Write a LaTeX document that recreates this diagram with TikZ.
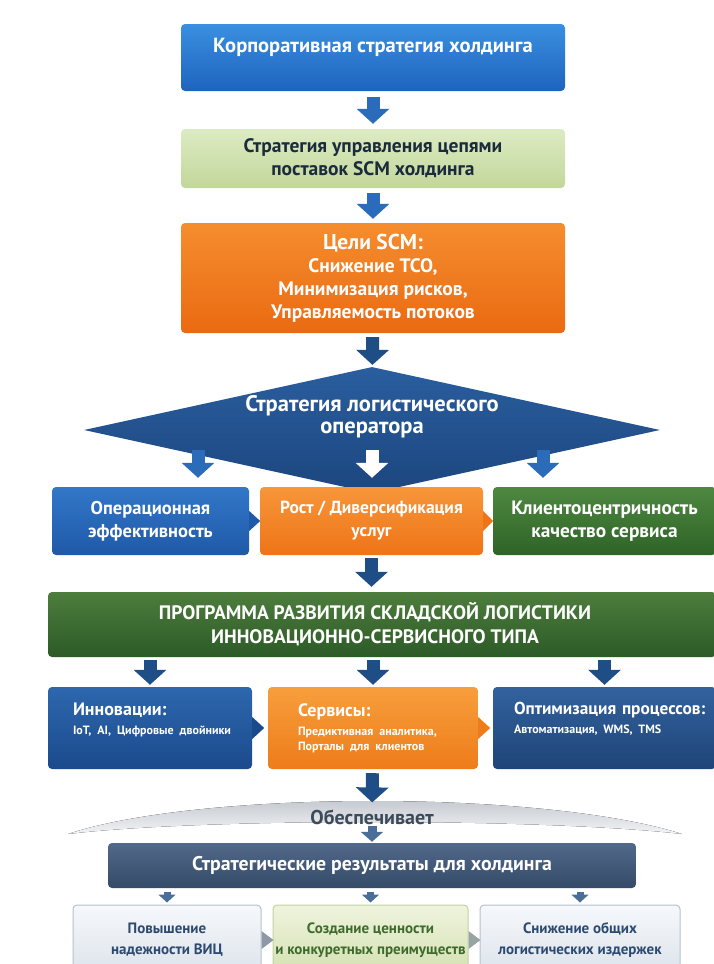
\documentclass[tikz,border=0pt]{standalone}
\usepackage{fontspec}
\setmainfont{PT Sans}
\frenchspacing
\usetikzlibrary{arrows.meta,shapes.geometric}

\definecolor{corptop}{HTML}{3A8FE0}
\definecolor{corpbot}{HTML}{1E64BE}
\definecolor{scmtop}{HTML}{DDEBC4}
\definecolor{scmbot}{HTML}{C2D79A}
\definecolor{scmtext}{HTML}{1B2B3C}
\definecolor{goaltop}{HTML}{F58D2E}
\definecolor{goalbot}{HTML}{EA6A12}
\definecolor{opertop}{HTML}{2A5E9E}
\definecolor{operbot}{HTML}{1C467F}
\definecolor{arrowblue}{HTML}{2A6CB9}
\definecolor{navy}{HTML}{1F4D86}
\definecolor{opstop}{HTML}{3277C8}
\definecolor{opsbot}{HTML}{1F59A8}
\definecolor{growtop}{HTML}{F7963A}
\definecolor{growbot}{HTML}{EE7417}
\definecolor{clienttop}{HTML}{4E8840}
\definecolor{clientbot}{HTML}{2E6327}
\definecolor{progtop}{HTML}{4D7D3D}
\definecolor{progbot}{HTML}{2D5A27}
\definecolor{innotop}{HTML}{2D67AE}
\definecolor{innobot}{HTML}{1B4A8C}
\definecolor{servtop}{HTML}{F79E3C}
\definecolor{servbot}{HTML}{EE7C1A}
\definecolor{optimtop}{HTML}{32629E}
\definecolor{optimbot}{HTML}{1F4478}
\definecolor{slatetop}{HTML}{51698A}
\definecolor{slatebot}{HTML}{344A68}
\definecolor{smallblue}{HTML}{4A6E98}
\definecolor{restop}{HTML}{F6F8FB}
\definecolor{resbot}{HTML}{DCE3EB}
\definecolor{resline}{HTML}{B5C1CE}
\definecolor{restext}{HTML}{2C4A70}
\definecolor{midtop}{HTML}{EFF4DE}
\definecolor{midbot}{HTML}{D3E0B0}
\definecolor{midline}{HTML}{C2D2A0}
\definecolor{midtext}{HTML}{3E6A2E}
\definecolor{arctop}{HTML}{B8BEC6}
\definecolor{arcbot}{HTML}{F2F3F5}
\definecolor{ensuretext}{HTML}{3C4A5A}
\definecolor{chevgray}{HTML}{8E99A5}

\newcommand{\fs}[2]{\fontsize{#1}{#2}\selectfont}
\newcommand{\sub}{\fs{12}{15}}

\begin{document}
\begin{tikzpicture}[
		x=1pt, y=-1pt,
		every node/.style={inner sep=0pt, font=\bfseries\fs{19.5}{23}},
		box/.style={rectangle, rounded corners=4pt, text=white, align=center},
		subbox/.style={box, align=left, minimum height=82pt},
		resbox/.style={rectangle, rounded corners=4pt, draw=resline, line width=1pt, top color=restop, bottom color=resbot, text=restext, align=center, minimum height=70pt, font=\bfseries\fs{15}{21}},
		blockarrow/.style={line width=13pt, draw=arrowblue, -{Triangle[width=32pt, length=15pt]}},
		smallarrow/.style={line width=9pt, draw=smallblue, -{Triangle[width=22pt, length=10pt]}},
		tinyarrow/.style={line width=7pt, draw=smallblue, -{Triangle[width=17pt, length=8pt]}}
	]
  \useasboundingbox (0,0) rectangle (713,964);

  \node (corp) [box, top color=corptop, bottom color=corpbot, minimum width=384pt, text height=28pt, text depth=39pt, font=\bfseries\fs{20.5}{24}] at (373,57.5) {Корпоративная стратегия холдинга};
  \node (scm) [box, top color=scmtop, bottom color=scmbot, text=scmtext, minimum width=384pt, minimum height=59pt] at (373,158.5) {Стратегия управления цепями\\поставок SCM холдинга};
  \node (goals) [box, top color=goaltop, bottom color=goalbot, minimum width=384pt, minimum height=110pt] at (373,278) {{\fs{21.5}{24}Цели SCM:}\\Снижение TCO,\\Минимизация рисков,\\Управляемость потоков};

  \draw[blockarrow, shorten <=6pt, shorten >=5pt] (corp) -- (scm);
  \draw[blockarrow, shorten <=5pt, shorten >=4pt] (scm) -- (goals);

  \node (oper) [diamond, top color=opertop, bottom color=operbot, minimum width=576pt, minimum height=126pt] at (372,430) {};
  \node (opertext) [text=white, align=center, font=\bfseries\fs{22.5}{22}] at (372,417) {Стратегия логистического\\оператора};
  \draw[blockarrow, draw=navy, shorten <=4pt, shorten >=2pt] (goals) -- (oper);

  \node (ops) [box, top color=opstop, bottom color=opsbot, minimum width=197pt, minimum height=68pt, font=\bfseries\fs{18.5}{23}] at (150.5,521) {Операционная\\эффективность};
  \node (grow) [box, top color=growtop, bottom color=growbot, minimum width=223pt, minimum height=68pt, font=\bfseries\fs{17.5}{23}] at (371.5,521) {Рост / Диверсификация\\услуг};
  \node (client) [box, top color=clienttop, bottom color=clientbot, minimum width=223pt, minimum height=68pt, font=\bfseries\fs{19.3}{23}] at (604.5,521) {Клиентоцентричность\\качество сервиса};
  \fill[opsbot] (ops.east) ++(0,-10) -- ++(11,10) -- ++(-11,10) -- cycle;
  \fill[growbot] (grow.east) ++(0,-10) -- ++(10,10) -- ++(-10,10) -- cycle;

  \coordinate (opL) at (198,450);
  \coordinate (opC) at (372,450);
  \coordinate (opR) at (543,450);
  \draw[blockarrow, shorten >=9pt] (opL) -- (opL |- ops.north);
  \draw[blockarrow, draw=white, shorten >=9pt] (opC) -- (opC |- grow.north);
  \draw[blockarrow, shorten >=9pt] (opR) -- (opR |- client.north);

  \node (prog) [box, top color=progtop, bottom color=progbot, minimum width=668pt, minimum height=65pt, font=\bfseries\fs{19.5}{24}] at (382,624.5) {ПРОГРАММА РАЗВИТИЯ СКЛАДСКОЙ ЛОГИСТИКИ\hspace*{14pt}\\ИННОВАЦИОННО-СЕРВИСНОГО ТИПА\hspace*{14pt}};
  \draw[blockarrow, draw=navy, shorten <=3pt, shorten >=5pt] (grow) -- (grow |- prog.north);

  \node (inno) [subbox, top color=innotop, bottom color=innobot, text width=154pt, inner xsep=25pt, font=\bfseries\fs{18}{22}] at (150,728) {Инновации:\\[-3pt]\mbox{\sub IoT, AI, Цифровые двойники}\\[-7pt]{\sub\strut}};
  \node (serv) [subbox, top color=servtop, bottom color=servbot, text width=150pt, inner xsep=30pt, font=\bfseries\fs{18}{22}] at (373,728) {Сервисы:\\[-3pt]\mbox{\sub Предиктивная аналитика,}\\[-7pt]\mbox{\sub Порталы для клиентов}};
  \node (optim) [subbox, top color=optimtop, bottom color=optimbot, text width=181pt, inner xsep=21pt, font=\bfseries\fs{17.3}{22}] at (604.5,728) {\mbox{Оптимизация процессов:}\\[-3pt]\mbox{\sub Автоматизация, WMS, TMS}\\[-7pt]{\sub\strut}};
  \fill[innobot] (inno.east) ++(0,-11) -- ++(12,11) -- ++(-12,11) -- cycle;
  \fill[servbot] (serv.east) ++(0,-11) -- ++(12,11) -- ++(-12,11) -- cycle;

  \draw[blockarrow, draw=navy, shorten <=3pt, shorten >=2pt] (prog.south -| inno) -- (inno);
  \draw[blockarrow, draw=navy, shorten <=3pt, shorten >=2pt] (prog.south -| serv) -- (serv);
  \draw[blockarrow, draw=navy, shorten <=3pt, shorten >=2pt] (prog.south -| optim) -- (optim);

  \fill[top color=arctop, bottom color=arcbot] (68,834) .. controls (200,790) and (544,790) .. (682,834) .. controls (544,818) and (200,818) .. (68,834) -- cycle;
  \node (ensure) [text=ensuretext, font=\bfseries\fs{20}{22}] at (372,817) {Обеспечивает};
  \draw[blockarrow, draw=navy, shorten <=4pt, shorten >=7pt] (serv) -- (ensure);

  \node (results) [box, top color=slatetop, bottom color=slatebot, minimum width=528pt, minimum height=45pt, font=\bfseries\fs{19.8}{24}] at (372,865.5) {Стратегические результаты для холдинга};
  \draw[smallarrow, shorten <=1pt, shorten >=1pt] (ensure) -- (results);

  \node (res1) [resbox, minimum width=188pt] at (167,940) {Повышение\\надежности ВИЦ};
  \node (res2) [resbox, top color=midtop, bottom color=midbot, draw=midline, text=midtext, minimum width=195pt] at (370.5,940) {Создание ценности\\и конкуретных преимуществ};
  \node (res3) [resbox, minimum width=200pt] at (580,940) {Снижение общих\\логистических издержек};
  \fill[chevgray] (res1.east) ++(0,-9) -- ++(12,9) -- ++(-12,9) -- cycle;
  \fill[chevgray!80!midline] (res2.east) ++(0,-9) -- ++(12,9) -- ++(-12,9) -- cycle;

  \draw[tinyarrow, shorten <=4pt, shorten >=2pt] (results.south -| res1) -- (res1);
  \draw[tinyarrow, shorten <=4pt, shorten >=2pt] (results.south -| res2) -- (res2);
  \draw[tinyarrow, shorten <=4pt, shorten >=2pt] (results.south -| res3) -- (res3);
\end{tikzpicture}
\end{document}
